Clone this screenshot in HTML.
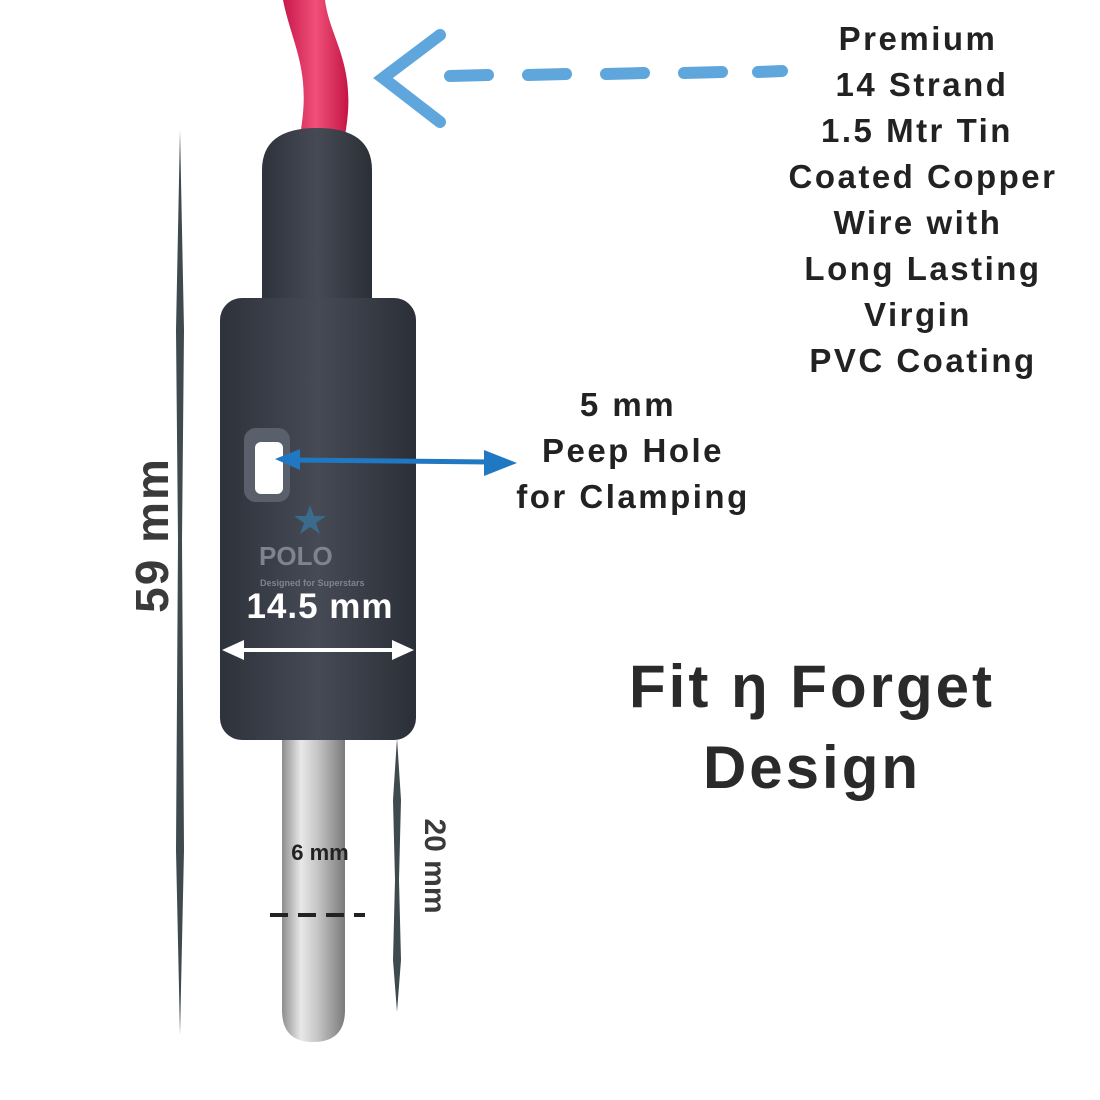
<!DOCTYPE html>
<html><head><meta charset="utf-8"><style>
html,body{margin:0;padding:0;background:#fff;width:1100px;height:1100px;overflow:hidden}
svg text{font-family:"Liberation Sans","DejaVu Sans",sans-serif;font-weight:bold}
</style></head><body>
<svg width="1100" height="1100" viewBox="0 0 1100 1100" xmlns="http://www.w3.org/2000/svg">
<defs>
<linearGradient id="pin" x1="0" x2="1" y1="0" y2="0">
<stop offset="0" stop-color="#8d8d8d"/><stop offset="0.3" stop-color="#e8e8e8"/><stop offset="0.55" stop-color="#c8c8c8"/><stop offset="1" stop-color="#7a7a7a"/></linearGradient>
<linearGradient id="body" x1="0" x2="1"><stop offset="0" stop-color="#2e323b"/><stop offset="0.5" stop-color="#454a55"/><stop offset="1" stop-color="#2b2f37"/></linearGradient>
<linearGradient id="wire" x1="0" x2="1"><stop offset="0" stop-color="#c8184a"/><stop offset="0.5" stop-color="#f0507a"/><stop offset="1" stop-color="#c41545"/></linearGradient>
</defs>
<!-- wire -->
<path d="M283 0 C292 45 312 70 300 135 L345 135 C358 65 330 40 325 0 Z" fill="url(#wire)"/>
<!-- cap -->
<path d="M262 310 L262 170 Q262 128 317 128 Q372 128 372 170 L372 310 Z" fill="url(#body)"/>
<!-- pin -->
<path d="M282 735 L345 735 L345 1010 Q345 1042 313 1042 Q282 1042 282 1010 Z" fill="url(#pin)"/>
<!-- body -->
<rect x="220" y="298" width="196" height="442" rx="22" fill="url(#body)"/>
<!-- peep hole -->
<rect x="244" y="428" width="46" height="74" rx="12" fill="#5a606b"/>
<rect x="255" y="442" width="28" height="52" rx="6" fill="#fff"/>
<!-- logo -->
<text x="259" y="565" font-size="26" fill="#7d8490">POLO</text>
<text x="260" y="586" font-size="9" fill="#7d8490" font-weight="normal">Designed for Superstars</text>
<polygon points="310,505 314,516 326,516 316,523 320,534 310,527 300,534 304,523 294,516 306,516" fill="#3b6b8a"/>
<!-- 14.5 mm -->
<text x="320" y="618" font-size="35" letter-spacing="1" fill="#fff" text-anchor="middle">14.5 mm</text>
<line x1="238" y1="650" x2="398" y2="650" stroke="#fff" stroke-width="4"/>
<polygon points="222,650 244,640 244,660" fill="#fff"/>
<polygon points="414,650 392,640 392,660" fill="#fff"/>
<!-- blue peep arrow -->
<line x1="290" y1="460" x2="490" y2="462" stroke="#1f78c1" stroke-width="5"/>
<polygon points="275,459 300,449 300,470" fill="#1f78c1"/>
<polygon points="517,463 484,450 484,476" fill="#1f78c1"/>
<!-- dashed wire arrow -->
<g stroke="#5fa6dd" stroke-width="12" stroke-linecap="round">
<line x1="450" y1="76" x2="488" y2="75"/><line x1="528" y1="75" x2="566" y2="74"/><line x1="606" y1="74" x2="644" y2="73"/><line x1="684" y1="73" x2="722" y2="72"/><line x1="758" y1="72" x2="782" y2="71"/>
<polyline points="440,35 383,78 440,122" fill="none"/>
</g>
<!-- left dim line -->
<path d="M180 130 L184 330 L182 540 L184 850 L180 1035 L176 850 L178 540 L176 330 Z" fill="#3f4a4f"/>
<text transform="translate(168,535) rotate(-90)" font-size="46" letter-spacing="2" fill="#3a3a3a" text-anchor="middle" font-weight="normal">59 mm</text>
<!-- right dim line -->
<path d="M397 738 L401 800 L399 880 L401 960 L397 1012 L393 960 L395 880 L393 800 Z" fill="#3f4a4f"/>
<text transform="translate(425,866) rotate(90)" font-size="30" fill="#3a3a3a" text-anchor="middle" font-weight="normal">20 mm</text>
<text x="320" y="860" font-size="22" fill="#222" text-anchor="middle">6 mm</text>
<line x1="270" y1="915" x2="365" y2="915" stroke="#222" stroke-width="4" stroke-dasharray="18,10"/>
<!-- right text block -->
<g font-size="33" letter-spacing="2.5" fill="#222" text-anchor="middle">
<text x="918" y="50">Premium</text>
<text x="922" y="96">14 Strand</text>
<text x="917" y="142">1.5 Mtr Tin</text>
<text x="923" y="188">Coated Copper</text>
<text x="918" y="234">Wire with</text>
<text x="923" y="280">Long Lasting</text>
<text x="918" y="326">Virgin</text>
<text x="923" y="372">PVC Coating</text>
</g>
<g font-size="33" letter-spacing="2.5" fill="#222" text-anchor="middle">
<text x="628" y="416">5 mm</text>
<text x="633" y="462">Peep Hole</text>
<text x="633" y="508">for Clamping</text>
</g>
<g font-size="60" letter-spacing="3" fill="#2a2a2a" text-anchor="middle">
<text x="812" y="707">Fit ŋ Forget</text>
<text x="812" y="788">Design</text>
</g>
</svg>
</body></html>
